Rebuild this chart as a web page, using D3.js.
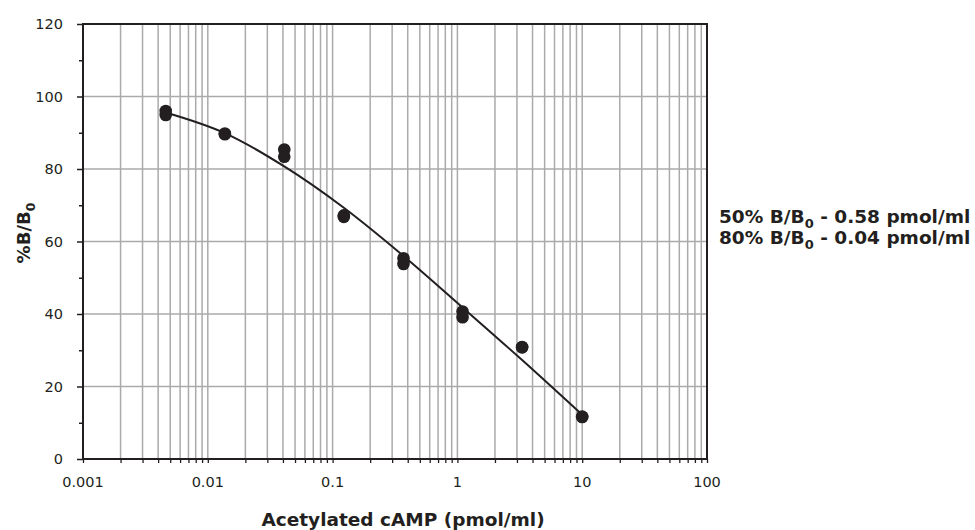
<!DOCTYPE html>
<html>
<head>
<meta charset="utf-8">
<script src="https://cdn.jsdelivr.net/npm/d3@7"></script>
<style>
  body { margin: 0; background: #fff; }
  svg { display: block; }
  text { fill: #231f20; font-family: "DejaVu Sans", sans-serif; }
</style>
</head>
<body>
<svg id="chart"></svg>
<script>
// standards, duplicate wells (pmol/ml)
var doses = [0.0046, 0.0046, 0.0137, 0.0137, 0.041, 0.041, 0.123, 0.123,
             0.37, 0.37, 1.1, 1.1, 3.3, 3.3, 10, 10];
var bb0 = [96.0, 94.9, 89.8, 89.6, 85.4, 83.4, 67.2, 66.8,
           55.4, 53.8, 40.7, 39.1, 30.9, 30.8, 11.7, 11.6];

// fitted curve
var fitX = [0.0046, 0.0137, 0.041, 0.123, 0.37, 1.1, 3.3, 10];
var fitY = [95.6, 89.9, 80.7, 69.3, 56.0, 41.8, 27.3, 12.2];

var xDecades = [0.001, 0.01, 0.1, 1, 10, 100];
var xTickLabels = ["0.001", "0.01", "0.1", "1", "10", "100"];
var yMajor = [0, 20, 40, 60, 80, 100, 120];
var yMinor = [10, 30, 50, 70, 90, 110];
var notes = [
  ["50% B/B", "0", " - 0.58 pmol/ml"],
  ["80% B/B", "0", " - 0.04 pmol/ml"]
];

var width = 975, height = 530;
var margin = {top: 24, right: 268, bottom: 71, left: 83};
var w = width - margin.left - margin.right,
    h = height - margin.top - margin.bottom;
var ink = "#231f20";

var svg = d3.select("#chart")
    .attr("width", width)
    .attr("height", height);

var g = svg.append("g")
    .attr("transform", "translate(" + margin.left + "," + margin.top + ")");

var x = d3.scaleLog().domain([0.001, 100]).range([0, w]);
var y = d3.scaleLinear().domain([0, 120]).range([h, 0]);

// every 1..9 step of each decade
var allX = [];
for (var i = 0; i < xDecades.length - 1; i++) {
    for (var k = 1; k < 10; k++) allX.push(xDecades[i] * k);
}
allX.push(100);
var innerX = allX.filter(function(d) { return d > 0.001 && d < 100; });

// grid
g.append("g").selectAll("line")
    .data(innerX).enter().append("line")
    .attr("x1", function(d) { return x(d); })
    .attr("x2", function(d) { return x(d); })
    .attr("y1", 0).attr("y2", h)
    .attr("stroke", "#aaaaaa").attr("stroke-width", 1.5);

g.append("g").selectAll("line")
    .data([20, 40, 60, 80, 100]).enter().append("line")
    .attr("x1", 0).attr("x2", w)
    .attr("y1", function(d) { return y(d); })
    .attr("y2", function(d) { return y(d); })
    .attr("stroke", "#aaaaaa").attr("stroke-width", 1.5);

// x axis ticks
var xAxis = d3.axisBottom(x).tickValues(allX).tickSize(4).tickFormat("");
var gx = g.append("g").attr("transform", "translate(0," + h + ")").call(xAxis);
gx.select(".domain").remove();
gx.selectAll(".tick line").attr("stroke", ink).attr("stroke-width", 1.3);

g.append("g").selectAll("text")
    .data(xDecades).enter().append("text")
    .attr("x", function(d) { return x(d); })
    .attr("y", h + 23)
    .attr("dy", "0.35em")
    .attr("text-anchor", "middle")
    .style("font-size", "14.5px")
    .text(function(d, i) { return xTickLabels[i]; });

// y axis ticks
var yAxis = d3.axisLeft(y).tickValues(yMajor).tickSize(6).tickPadding(14);
var gy = g.append("g").call(yAxis);
gy.select(".domain").remove();
gy.selectAll(".tick line").attr("stroke", ink).attr("stroke-width", 1.5);
gy.selectAll(".tick text")
    .style("font-family", "DejaVu Sans, sans-serif")
    .style("font-size", "14.5px")
    .attr("fill", ink);

var yAxisMinor = d3.axisLeft(y).tickValues(yMinor).tickSize(4).tickFormat("");
var gy2 = g.append("g").call(yAxisMinor);
gy2.select(".domain").remove();
gy2.selectAll(".tick line").attr("stroke", ink).attr("stroke-width", 1.5);

// frame
g.append("rect")
    .attr("x", 0).attr("y", 0)
    .attr("width", w).attr("height", h)
    .attr("fill", "none")
    .attr("stroke", ink).attr("stroke-width", 2);

// fitted curve
var fit = fitX.map(function(d, i) { return {x: d, y: fitY[i]}; });
var line = d3.line()
    .x(function(d) { return x(d.x); })
    .y(function(d) { return y(d.y); })
    .curve(d3.curveMonotoneX);

g.append("path")
    .datum(fit)
    .attr("d", line)
    .attr("fill", "none")
    .attr("stroke", ink)
    .attr("stroke-width", 2);

// points
g.append("g").selectAll("circle")
    .data(doses).enter().append("circle")
    .attr("cx", function(d) { return x(d); })
    .attr("cy", function(d, i) { return y(bb0[i]); })
    .attr("r", 6.3)
    .attr("fill", ink);

// axis titles
svg.append("text")
    .attr("x", margin.left + 320)
    .attr("y", 526)
    .attr("text-anchor", "middle")
    .style("font-size", "18.5px")
    .style("font-weight", "bold")
    .text("Acetylated cAMP (pmol/ml)");

var yt = svg.append("text")
    .attr("transform", "translate(30,233) rotate(-90)")
    .attr("text-anchor", "middle")
    .style("font-size", "18px")
    .style("font-weight", "bold");
yt.append("tspan").text("%B/B");
yt.append("tspan").attr("dy", 5).style("font-size", "12.5px").text("0");

// annotation
var ann = svg.append("g").selectAll("text")
    .data(notes).enter().append("text")
    .attr("x", 719)
    .attr("y", function(d, i) { return 223 + i * 21; })
    .style("font-size", "18.5px")
    .style("font-weight", "bold");
ann.append("tspan").text(function(d) { return d[0]; });
ann.append("tspan").attr("dy", 5).style("font-size", "13px").text(function(d) { return d[1]; });
ann.append("tspan").attr("dy", -5).text(function(d) { return d[2]; });
</script>
</body>
</html>
